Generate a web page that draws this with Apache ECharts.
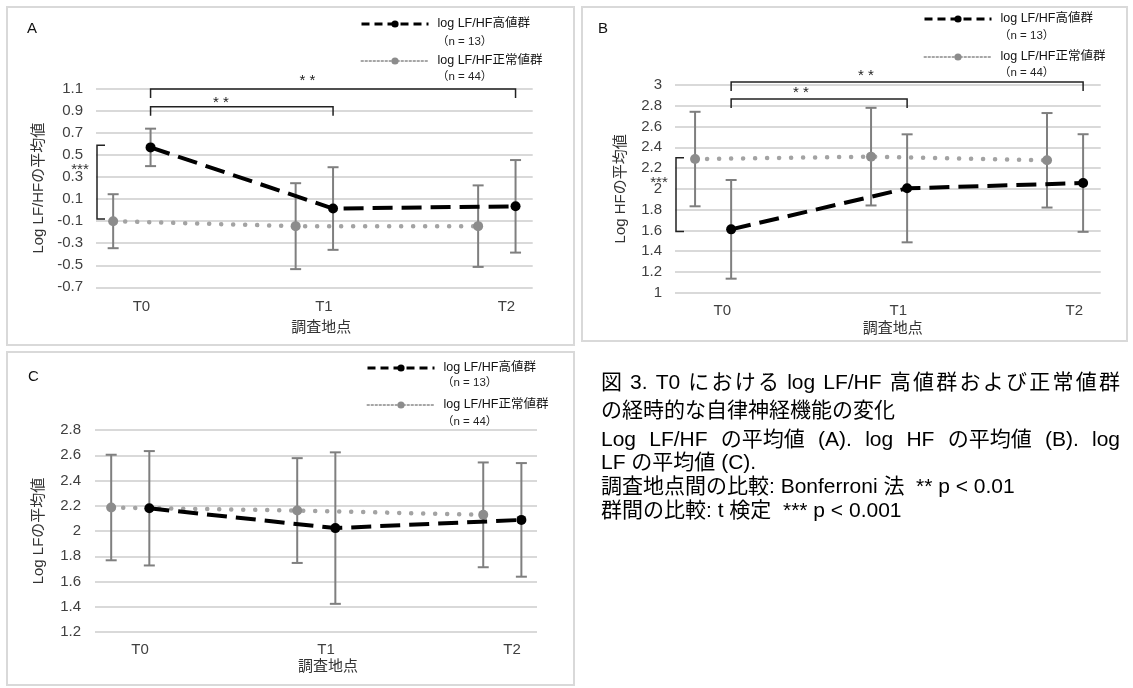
<!DOCTYPE html>
<html><head><meta charset="utf-8">
<script src="https://cdn.jsdelivr.net/npm/echarts@6/dist/echarts.min.js"></script>
<style>html,body{margin:0;padding:0;background:#fff;}#c{width:1133px;height:688px;}</style>
</head><body><div id="c"></div>
<script>
// ---------- data ----------
const times = ['T0', 'T1', 'T2'];
const groupNames = ['log LF/HF高値群', 'log LF/HF正常値群'];
const groupNs = ['（n = 13）', '（n = 44）'];
const panelLetters = ['A', 'B', 'C'];
const yNames = ['Log LF/HFの平均値', 'Log HFの平均値', 'Log LFの平均値'];
const xName = '調査地点';

// Panel A: log LF/HF (mean, SD)
const lfhfHighMean = [0.57, 0.015, 0.035];
const lfhfHighSD   = [0.17, 0.375, 0.42];
const lfhfNormMean = [-0.10, -0.145, -0.145];
const lfhfNormSD   = [0.245, 0.39, 0.37];
// Panel B: log HF
const hfHighMean = [1.61, 2.005, 2.056];
const hfHighSD   = [0.475, 0.52, 0.47];
const hfNormMean = [2.287, 2.31, 2.275];
const hfNormSD   = [0.455, 0.47, 0.455];
// Panel C: log LF
const lfHighMean = [2.18, 2.023, 2.088];
const lfHighSD   = [0.453, 0.60, 0.45];
const lfNormMean = [2.186, 2.162, 2.128];
const lfNormSD   = [0.418, 0.415, 0.415];

// y axis ranges (min, max, step)
const yMinA = -0.7, yMaxA = 1.1;
const yMinB = 1.0,  yMaxB = 3.0;
const yMinC = 1.2,  yMaxC = 2.8;
const yStep = 0.2;

// significance annotations
const sigTime = '**';   // Bonferroni
const sigGroup = '***'; // t-test

const captionLines = [
  '図 3. T0 における log LF/HF 高値群および正常値群',
  'の経時的な自律神経機能の変化',
  'Log LF/HF の平均値 (A). log HF の平均値 (B). log',
  'LF の平均値 (C).',
  '調査地点間の比較: Bonferroni 法  ** p < 0.01',
  '群間の比較: t 検定  *** p < 0.001'
];
// 0: none, 1: distribute over all characters, 2: distribute over spaces
const captionJustify = [1, 0, 2, 0, 0, 0];

// ---------- layout / style ----------
const FONT = "'Liberation Sans', Arial, 'Noto Sans CJK JP', sans-serif";
const TICK_FS = 15, NAME_FS = 15;
const HI_OFF = 0.05, NO_OFF = -0.155;
const ERR_COLOR = '#7f7f7f';

const panels = [
  { grid: {left: 96, top: 89, width: 436.7, height: 198.3}, xmin: -0.249, xmax: 2.144,
    ymin: yMinA, ymax: yMaxA, hi: [lfhfHighMean, lfhfHighSD], no: [lfhfNormMean, lfhfNormSD],
    yNameGap: 50, xNameGap: 33, xNamePad: 14, yLabMargin: 13, xLabMargin: 12,
    legend: {left: 360, top: 17, gap: 23}, nText: {x: 437, y: [42, 77]},
    letter: [27, 30],
    brackets: [[HI_OFF, 2 + HI_OFF, 1.1, 0.91, -8], [HI_OFF, 1 + HI_OFF, 0.94, 0.435, -4]],
    group: [0.59, -0.08] },
  { grid: {left: 675, top: 85, width: 425.7, height: 207.7}, xmin: -0.269, xmax: 2.15,
    ymin: yMinB, ymax: yMaxB, hi: [hfHighMean, hfHighSD], no: [hfNormMean, hfNormSD],
    yNameGap: 47, xNameGap: 29, xNamePad: 10, yLabMargin: 13, xLabMargin: 11,
    legend: {left: 923, top: 12, gap: 24}, nText: {x: 999, y: [36, 73]},
    letter: [598, 30],
    brackets: [[HI_OFF, 2 + HI_OFF, 3.03, 0.816, -6], [HI_OFF, 1 + HI_OFF, 2.865, 0.447, -6]],
    group: [2.3, 1.59] },
  { grid: {left: 95, top: 430, width: 442, height: 202}, xmin: -0.242, xmax: 2.134,
    ymin: yMinC, ymax: yMaxC, hi: [lfHighMean, lfHighSD], no: [lfNormMean, lfNormSD],
    yNameGap: 49, xNameGap: 27, xNamePad: 24, yLabMargin: 14, xLabMargin: 10,
    legend: {left: 366, top: 361, gap: 23}, nText: {x: 442, y: [383, 421.7]},
    letter: [28, 378],
    brackets: [], group: null }
];

const grids = [], xAxes = [], yAxes = [], legends = [], series = [], graphics = [];

function errorSeries(idx, means, sds, off) {
  return {
    type: 'custom', xAxisIndex: idx, yAxisIndex: idx, z: 2, silent: true, animation: false,
    data: means.map((m, i) => [i + off, m - sds[i], m + sds[i]]),
    encode: {x: 0, y: [1, 2]},
    renderItem: (params, api) => {
      const lo = api.coord([api.value(0), api.value(1)]);
      const hi = api.coord([api.value(0), api.value(2)]);
      const w = 5.5, st = {stroke: ERR_COLOR, lineWidth: 2};
      return {type: 'group', children: [
        {type: 'line', shape: {x1: lo[0], y1: lo[1], x2: hi[0], y2: hi[1]}, style: st},
        {type: 'line', shape: {x1: lo[0] - w, y1: lo[1], x2: lo[0] + w, y2: lo[1]}, style: st},
        {type: 'line', shape: {x1: hi[0] - w, y1: hi[1], x2: hi[0] + w, y2: hi[1]}, style: st}
      ]};
    }
  };
}

panels.forEach((p, k) => {
  grids.push(Object.assign({containLabel: false}, p.grid));
  xAxes.push({
    type: 'value', gridIndex: k, min: p.xmin, max: p.xmax,
    axisLine: {show: false}, axisTick: {show: false}, splitLine: {show: false},
    axisLabel: {customValues: [0, 1, 2], formatter: v => times[Math.round(v)],
      color: '#404040', fontSize: TICK_FS, fontFamily: FONT, margin: p.xLabMargin},
    name: xName, nameLocation: 'middle', nameGap: p.xNameGap,
    nameTextStyle: {color: '#333', fontSize: NAME_FS, fontFamily: FONT, padding: [0, 0, 0, p.xNamePad]}
  });
  yAxes.push({
    type: 'value', gridIndex: k, min: p.ymin, max: p.ymax, interval: yStep,
    axisLine: {show: false}, axisTick: {show: false},
    splitLine: {show: true, lineStyle: {color: '#d9d9d9', width: 2}},
    axisLabel: {color: '#404040', fontSize: TICK_FS, fontFamily: FONT, margin: p.yLabMargin},
    name: yNames[k], nameLocation: 'middle', nameGap: p.yNameGap,
    nameTextStyle: {color: '#333', fontSize: NAME_FS, fontFamily: FONT}
  });
  legends.push({
    left: p.legend.left, top: p.legend.top, orient: 'vertical', selectedMode: false, padding: 0,
    itemWidth: 67, itemHeight: 9, itemGap: p.legend.gap,
    textStyle: {fontSize: 12.5, color: '#111', fontFamily: FONT, lineHeight: 14, padding: [0, 0, 0, 4]},
    data: [
      {name: groupNames[0], itemStyle: {color: '#000'}, lineStyle: {color: '#000', width: 3, type: [8, 5]}},
      {name: groupNames[1], itemStyle: {color: '#8c8c8c'}, lineStyle: {color: '#a6a6a6', width: 2, type: [1.5, 2.5]}}
    ]
  });
  series.push(errorSeries(k, p.no[0], p.no[1], NO_OFF));
  series.push(errorSeries(k, p.hi[0], p.hi[1], HI_OFF));
  series.push({
    type: 'line', name: groupNames[1], xAxisIndex: k, yAxisIndex: k, z: 3, animation: false,
    data: p.no[0].map((m, i) => [i + NO_OFF, m]),
    symbol: 'circle', symbolSize: 10, itemStyle: {color: '#8c8c8c'},
    lineStyle: {color: '#a3a3a3', width: 4.5, type: [0.1, 11.9], cap: 'round'}
  });
  series.push({
    type: 'line', name: groupNames[0], xAxisIndex: k, yAxisIndex: k, z: 4, animation: false,
    data: p.hi[0].map((m, i) => [i + HI_OFF, m]),
    symbol: 'circle', symbolSize: 10, itemStyle: {color: '#000'},
    lineStyle: {color: '#000', width: 4, type: [20, 9]}
  });
  if (p.brackets.length) {
    series.push({
      type: 'custom', xAxisIndex: k, yAxisIndex: k, z: 5, silent: true, animation: false, clip: false,
      data: p.brackets, encode: {x: [0, 1], y: 2},
      renderItem: (params, api) => {
        const a = api.coord([api.value(0), api.value(2)]);
        const b = api.coord([api.value(1), api.value(2)]);
        const t = api.coord([api.value(3), api.value(2)]);
        const d = 9;
        return {type: 'group', children: [
          {type: 'polyline', shape: {points: [[a[0], a[1] + d], [a[0], a[1]], [b[0], a[1]], [b[0], a[1] + d]]},
            style: {stroke: '#222', lineWidth: 1.5, fill: null}},
          {type: 'text', x: t[0], y: a[1] + api.value(4),
            style: {text: sigTime.split('').join(' '), fontSize: 15, fontFamily: FONT, fill: '#222', align: 'center', verticalAlign: 'middle'}}
        ]};
      }
    });
  }
  if (p.group) {
    series.push({
      type: 'custom', xAxisIndex: k, yAxisIndex: k, z: 5, silent: true, animation: false, clip: false,
      data: [[p.xmin, p.group[0], p.group[1]]], encode: {x: 0, y: [1, 2]},
      renderItem: (params, api) => {
        const a = api.coord([api.value(0), api.value(1)]);
        const b = api.coord([api.value(0), api.value(2)]);
        const x = a[0] + 1, w = 8;
        return {type: 'group', children: [
          {type: 'polyline', shape: {points: [[x + w, a[1]], [x, a[1]], [x, b[1]], [x + w, b[1]]]},
            style: {stroke: '#222', lineWidth: 1.5, fill: null}},
          {type: 'text', x: x - 17, y: a[1] + 25,
            style: {text: sigGroup, fontSize: 15, fontFamily: FONT, fill: '#333', align: 'center', verticalAlign: 'middle'}}
        ]};
      }
    });
  }
  graphics.push({type: 'text', left: p.letter[0], top: p.letter[1] - 9,
    style: {text: panelLetters[k], fontSize: 15, fontFamily: FONT, fill: '#111'}});
  groupNs.forEach((n, j) => graphics.push({type: 'text', x: p.nText.x, y: p.nText.y[j],
    style: {text: n, fontSize: 11.5, fontFamily: FONT, fill: '#222', verticalAlign: 'middle'}}));
});

// panel frames
[[7, 7, 567, 338], [582, 7, 545, 334], [7, 352, 567, 333]].forEach(r => graphics.unshift({
  type: 'rect', shape: {x: r[0], y: r[1], width: r[2], height: r[3]}, z: -10,
  style: {fill: '#fff', stroke: '#d9d9d9', lineWidth: 2}}));

// caption (justified lines)
const CAP_FS = 21, CAP_X = 601, CAP_W = 519;
const capY = [383, 411, 440, 463, 487, 511];
const mctx = document.createElement('canvas').getContext('2d');
mctx.font = CAP_FS + 'px ' + FONT;
function splitUnits(t, mode) {
  if (mode === 2) {
    const ws = t.split(' ');
    return ws.map((w, j) => j < ws.length - 1 ? w + ' ' : w);
  }
  // mode 1: each CJK char is a unit; Latin words (with trailing space) are units
  const units = [];
  let cur = '';
  for (const ch of t) {
    const cjk = /[\u3000-\u9fff\uff00-\uffef]/.test(ch);
    if (cjk) { if (cur) units.push(cur); cur = ''; units.push(ch); }
    else if (ch === ' ') { if (cur) { units.push(cur + ' '); cur = ''; } else if (units.length) units[units.length - 1] += ' '; }
    else cur += ch;
  }
  if (cur) units.push(cur);
  return units;
}
captionLines.forEach((t, i) => {
  const st = {fontSize: CAP_FS, fontFamily: FONT, fill: '#000', verticalAlign: 'middle'};
  const mode = captionJustify[i];
  if (!mode) {
    graphics.push({type: 'text', x: CAP_X, y: capY[i], style: Object.assign({text: t}, st)});
    return;
  }
  const units = splitUnits(t, mode);
  const widths = units.map(w => mctx.measureText(w).width);
  const last = units[units.length - 1];
  const gap = (CAP_W - widths.reduce((s, w) => s + w, 0)) / (units.length - 1);
  let x = CAP_X;
  units.forEach((w, j) => {
    graphics.push({type: 'text', x: x, y: capY[i], style: Object.assign({text: w.trimEnd()}, st)});
    x += widths[j] + gap;
  });
});

const chart = echarts.init(document.getElementById('c'));
chart.setOption({
  animation: false, backgroundColor: '#fff',
  grid: grids, xAxis: xAxes, yAxis: yAxes, legend: legends, series: series, graphic: graphics
});
</script></body></html>
